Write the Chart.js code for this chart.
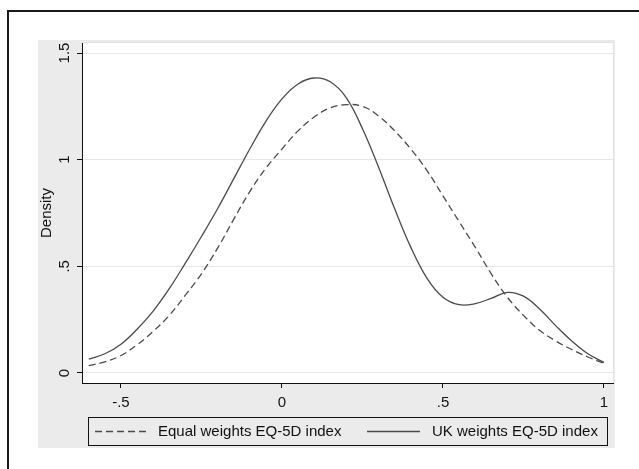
<!DOCTYPE html>
<html>
<head>
<meta charset="utf-8">
<script src="https://cdn.jsdelivr.net/npm/chart.js@4/dist/chart.umd.min.js"></script>
<style>
  html, body { margin: 0; padding: 0; background: #fff; }
  #wrap { width: 639px; height: 469px; }
</style>
</head>
<body>
<div id="wrap"><canvas id="densityChart" width="639" height="469"></canvas></div>
<script>
const xValues = [-0.6, -0.55, -0.5, -0.45, -0.4, -0.35, -0.3, -0.25, -0.2, -0.15, -0.1, -0.05, 0,
  0.05, 0.1, 0.15, 0.2, 0.25, 0.3, 0.35, 0.4, 0.45, 0.5, 0.55, 0.6, 0.65, 0.7, 0.75, 0.8, 0.85, 0.9, 0.95, 1.0];
const equalWeights = [0.035, 0.052, 0.082, 0.132, 0.195, 0.27, 0.365, 0.465, 0.585, 0.72, 0.85, 0.96, 1.05,
  1.135, 1.2, 1.243, 1.258, 1.25, 1.205, 1.135, 1.05, 0.95, 0.83, 0.71, 0.59, 0.465, 0.355, 0.27, 0.2, 0.15, 0.11, 0.075, 0.045];
const ukWeights = [0.065, 0.09, 0.135, 0.205, 0.29, 0.395, 0.515, 0.64, 0.77, 0.91, 1.05, 1.18, 1.285,
  1.355, 1.383, 1.365, 1.29, 1.145, 0.965, 0.77, 0.59, 0.445, 0.355, 0.32, 0.325, 0.35, 0.378, 0.36, 0.3, 0.222, 0.15, 0.09, 0.05];
const seriesLabels = ["Equal weights EQ-5D index", "UK weights EQ-5D index"];
const xTicks = [-0.5, 0, 0.5, 1];
const yTicks = [0, 0.5, 1, 1.5];

const fontFamily = "'Liberation Sans', Arial, sans-serif";
const inkColor = "#4a4a4a";

function stataLabel(v) {
  return String(v).replace(/^(-?)0\./, "$1.");
}

function toPoints(ys) {
  return xValues.map((x, i) => ({x: x, y: ys[i]}));
}

const backdrop = {
  id: "backdrop",
  beforeDraw(chart) {
    const ctx = chart.ctx;
    const a = chart.chartArea;
    ctx.save();
    ctx.fillStyle = "#fff";
    ctx.fillRect(0, 0, chart.width, chart.height);
    ctx.fillStyle = "#1a1a1a";
    ctx.fillRect(7, 10, chart.width - 7, 2);
    ctx.fillRect(7, 10, 2, chart.height - 10);
    ctx.fillStyle = "#ebebeb";
    ctx.fillRect(38, 40, 577, 408);
    ctx.fillStyle = "#fff";
    ctx.fillRect(a.left, a.top, a.right - a.left, a.bottom - a.top);
    ctx.strokeStyle = "#e2e2e2";
    ctx.lineWidth = 1;
    ctx.strokeRect(a.left + 0.5, a.top - 0.5, a.right - a.left, a.bottom - a.top + 1);
    ctx.restore();
  }
};

const stataLegend = {
  id: "stataLegend",
  afterDraw(chart) {
    const ctx = chart.ctx;
    ctx.save();
    ctx.strokeStyle = "#111";
    ctx.lineWidth = 1;
    ctx.strokeRect(88.5, 417.5, 519, 28);
    ctx.font = "15px " + fontFamily;
    ctx.fillStyle = "#111";
    ctx.textBaseline = "middle";
    const items = [
      {x0: 95, x1: 150, tx: 158, ds: chart.data.datasets[0]},
      {x0: 367, x1: 420, tx: 432, ds: chart.data.datasets[1]}
    ];
    items.forEach(it => {
      ctx.strokeStyle = it.ds.borderColor;
      ctx.lineWidth = it.ds.borderWidth;
      ctx.setLineDash(it.ds.borderDash || []);
      ctx.beginPath();
      ctx.moveTo(it.x0, 431.5);
      ctx.lineTo(it.x1, 431.5);
      ctx.stroke();
      ctx.setLineDash([]);
      ctx.fillText(it.ds.label, it.tx, 432);
    });
    ctx.restore();
  }
};

new Chart(document.getElementById("densityChart"), {
  type: "line",
  data: {
    datasets: [
      {label: seriesLabels[0], data: toPoints(equalWeights), borderColor: inkColor, borderWidth: 1.3, borderDash: [7, 4],
        pointRadius: 0, tension: 0.4, fill: false},
      {label: seriesLabels[1], data: toPoints(ukWeights), borderColor: inkColor, borderWidth: 1.3,
        pointRadius: 0, tension: 0.4, fill: false}
    ]
  },
  options: {
    responsive: false,
    animation: false,
    devicePixelRatio: 1,
    layout: {padding: {left: 38, top: 43, right: 26, bottom: 46}},
    plugins: {legend: {display: false}, tooltip: {enabled: false}},
    scales: {
      x: {
        type: "linear", min: -0.621, max: 1.028,
        afterBuildTicks: s => { s.ticks = xTicks.map(v => ({value: v})); },
        afterFit: s => { s.height = 40; },
        grid: {drawOnChartArea: false, tickLength: 5, tickColor: "#111"},
        border: {color: "#111", width: 1},
        ticks: {color: "#111", padding: 6, font: {family: fontFamily, size: 15}, callback: v => stataLabel(v), maxRotation: 0}
      },
      y: {
        type: "linear", min: -0.047, max: 1.547,
        afterBuildTicks: s => { s.ticks = yTicks.map(v => ({value: v})); },
        afterFit: s => { s.width = 44; },
        grid: {color: "#e6e6e6", tickLength: 5, tickColor: "#111"},
        border: {color: "#111", width: 1},
        title: {display: true, text: "Density", color: "#111", padding: 0, font: {family: fontFamily, size: 15}},
        ticks: {color: "#111", padding: 2, minRotation: 90, maxRotation: 90, crossAlign: "center",
          font: {family: fontFamily, size: 15}, callback: v => stataLabel(v)}
      }
    }
  },
  plugins: [backdrop, stataLegend]
});
</script>
</body>
</html>
